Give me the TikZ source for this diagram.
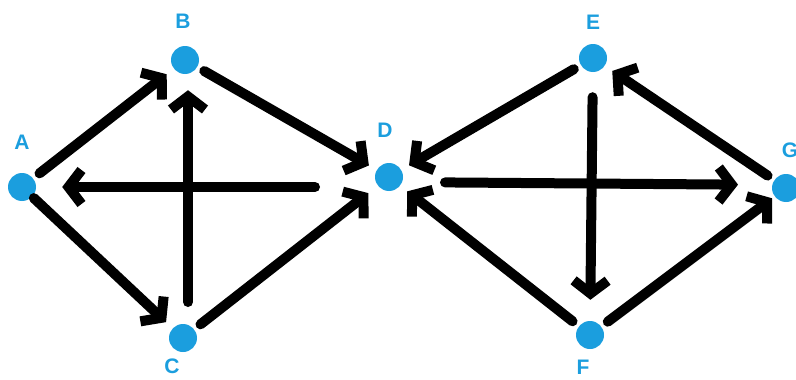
\documentclass[tikz,border=0pt]{standalone}
\usepackage{fontspec}
\setmainfont{Liberation Sans}
\usepackage{xcolor}
\usetikzlibrary{arrows.meta,positioning,calc}
\definecolor{dotblue}{RGB}{27,158,222}

\begin{document}
\begin{tikzpicture}[x=1pt,y=-1pt,
	vtx/.style={circle, fill=dotblue, minimum size=28pt, inner sep=0pt},
	lbl/.style={text=dotblue, font=\fontsize{21}{21}\selectfont\bfseries},
	arr/.style={-{Straight Barb[length=13pt,width=34pt]}, line width=10pt, line cap=round, shorten <=8pt, shorten >=9pt}]
	\useasboundingbox (0,0) rectangle (796,380);
	\node[vtx] (A) at (22,187) {};
	\node[vtx] (B) at (185,60) {};
	\node[vtx] (C) at (183,338) {};
	\node[vtx] (D) at (389,177) {};
	\node[vtx] (E) at (593,58) {};
	\node[vtx] (F) at (590,335) {};
	\node[vtx] (G) at (786,188) {};
	\node[lbl] (lA) at (22,142) {A};
	\node[lbl] (lB) at (183,21) {B};
	\node[lbl] (lC) at (172,366) {C};
	\node[lbl] (lD) at (385,130) {D};
	\node[lbl] (lE) at (593,22) {E};
	\node[lbl] (lF) at (583,367) {F};
	\node[lbl] (lG) at (790,150) {G};
	% left half
	\draw[arr] (A) -- (B);
	\draw[arr, shorten <=2pt] (A) -- (C);
	\draw[arr, shorten >=12pt] (C) -- (D);
	\draw[arr] (B) -- (D);
	\draw[arr, shorten <=36pt, shorten >=16pt] ([xshift=5pt]C.center) -- ([xshift=3pt]B.south);
	\draw[arr, shorten <=74pt, shorten >=26pt] (D.center |- A) -- (A);
	% right half
	\draw[arr] (E) -- (D);
	\draw[arr, shorten <=56pt, shorten >=48pt] ([yshift=-5pt]D.center) -- ([yshift=3pt]G.center);
	\draw[arr, shorten <=25pt, shorten >=21pt] (E) -- (F);
	\draw[arr] (F) -- (D);
	\draw[arr, shorten >=3pt] (F) -- (G);
	\draw[arr] (G) -- (E);
\end{tikzpicture}
\end{document}
